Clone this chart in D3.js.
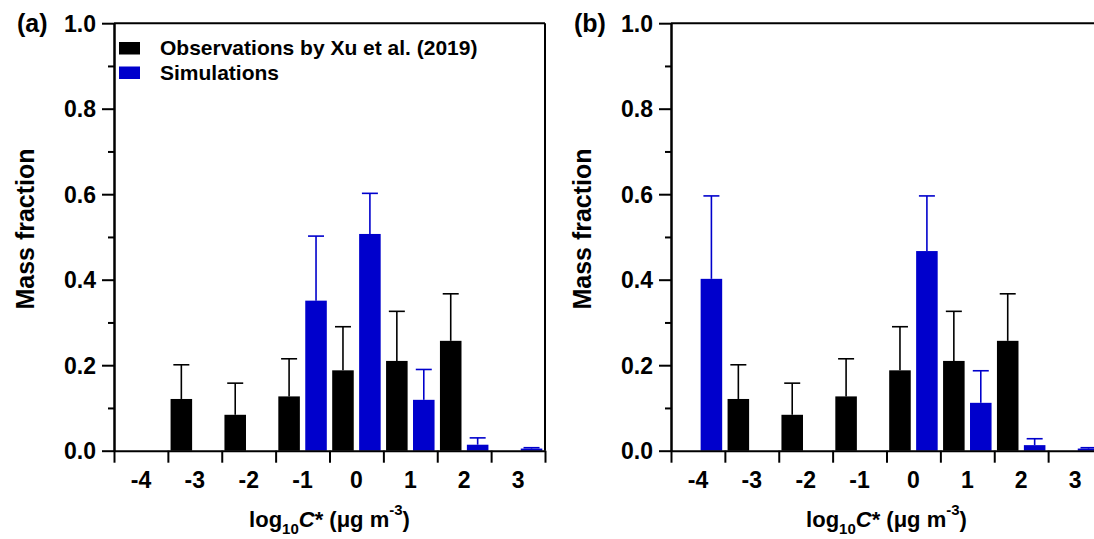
<!DOCTYPE html>
<html>
<head>
<meta charset="utf-8">
<script src="https://cdn.jsdelivr.net/npm/d3@7"></script>
<style>
  html, body { margin: 0; padding: 0; background: #fff; }
  svg { display: block; }
  text { font-family: "Liberation Sans", Arial, sans-serif; font-weight: bold; fill: #000; }
</style>
</head>
<body>
<svg id="chart" width="1094" height="539"></svg>
<script>
// ---- data ----
const categories = [-4, -3, -2, -1, 0, 1, 2, 3];
const yTickValues = [0, 0.2, 0.4, 0.6, 0.8, 1.0];
const yMinorTicks = [0.1, 0.3, 0.5, 0.7, 0.9];
const seriesNames = ["Observations by Xu et al. (2019)", "Simulations"];
const panelLabels = ["(a)", "(b)"];

// observations (same in both panels)
const obsValues = [null, 0.121, 0.084, 0.127, 0.188, 0.210, 0.257, null];
const obsErrors = [null, 0.080, 0.074, 0.088, 0.102, 0.116, 0.110, null];
// simulations panel (a)
const simAValues = [null, null, null, 0.351, 0.507, 0.119, 0.014, 0.005];
const simAErrors = [null, null, null, 0.151, 0.095, 0.071, 0.016, 0.002];
// simulations panel (b)
const simBValues = [0.402, null, null, null, 0.467, 0.112, 0.013, 0.005];
const simBErrors = [0.194, null, null, null, 0.129, 0.075, 0.015, 0.002];

const colors = { obs: "#000000", sim: "#0000CC" };

const svg = d3.select("#chart");
svg.append("rect").attr("width", 1094).attr("height", 539).attr("fill", "#fff");

const plotW = 431, plotH = 427.5, plotTop = 23.2;
const panels = [
  { left: 114, label: panelLabels[0], sim: simAValues, simErr: simAErrors, legend: true },
  { left: 671, label: panelLabels[1], sim: simBValues, simErr: simBErrors, legend: false }
];

panels.forEach(p => {
  const g = svg.append("g").attr("transform", `translate(${p.left},${plotTop})`);
  const x = d3.scaleBand().domain(categories).range([0, plotW]).padding(0);
  const xSub = d3.scaleBand().domain(["obs", "sim"]).range([0, x.bandwidth()])
    .paddingInner(0.2).paddingOuter(0.1);
  const y = d3.scaleLinear().domain([0, 1]).range([plotH, 0]);

  // bars
  const rows = categories.map((c, i) => ([
    { c, key: "obs", v: obsValues[i], e: obsErrors[i] },
    { c, key: "sim", v: p.sim[i], e: p.simErr[i] }
  ])).flat().filter(d => d.v != null);

  g.selectAll("rect.bar").data(rows).join("rect")
    .attr("class", "bar")
    .attr("x", d => x(d.c) + xSub(d.key))
    .attr("width", xSub.bandwidth())
    .attr("y", d => y(d.v))
    .attr("height", d => y(0) - y(d.v))
    .attr("fill", d => colors[d.key]);

  // error bars (upper only)
  const capW = 16;
  const eg = g.selectAll("g.err").data(rows.filter(d => d.e != null)).join("g").attr("class", "err");
  eg.append("line")
    .attr("x1", d => x(d.c) + xSub(d.key) + xSub.bandwidth() / 2)
    .attr("x2", d => x(d.c) + xSub(d.key) + xSub.bandwidth() / 2)
    .attr("y1", d => y(d.v))
    .attr("y2", d => y(d.v + d.e))
    .attr("stroke", d => colors[d.key]).attr("stroke-width", 1.6);
  eg.append("line")
    .attr("x1", d => x(d.c) + xSub(d.key) + xSub.bandwidth() / 2 - capW / 2)
    .attr("x2", d => x(d.c) + xSub(d.key) + xSub.bandwidth() / 2 + capW / 2)
    .attr("y1", d => y(d.v + d.e))
    .attr("y2", d => y(d.v + d.e))
    .attr("stroke", d => colors[d.key]).attr("stroke-width", 1.6);

  // frame top/right
  g.append("line").attr("x1", 0).attr("x2", plotW).attr("y1", 0).attr("y2", 0)
    .attr("stroke", "#000").attr("stroke-width", 2);
  g.append("line").attr("x1", plotW).attr("x2", plotW).attr("y1", 0).attr("y2", plotH)
    .attr("stroke", "#000").attr("stroke-width", 2);

  // y axis
  const yAxis = g.append("g").call(
    d3.axisLeft(y).tickValues(yTickValues).tickSize(12).tickPadding(6)
      .tickFormat(d3.format(".1f")).tickSizeOuter(0));
  const yMinor = g.append("g").call(
    d3.axisLeft(y).tickValues(yMinorTicks).tickSize(6).tickFormat("").tickSizeOuter(0));
  [yAxis, yMinor].forEach(a => {
    a.select(".domain").attr("stroke-width", 2);
    a.selectAll(".tick line").attr("stroke-width", 2);
  });
  yAxis.selectAll(".tick text").style("font-size", "23px").attr("dy", "0.36em")
    .style("font-family", '"Liberation Sans", Arial, sans-serif').style("font-weight", "bold");

  // x axis: boundary ticks
  const xb = d3.scaleLinear().domain([0, categories.length]).range([0, plotW]);
  const xTicks = g.append("g").attr("transform", `translate(0,${plotH})`).call(
    d3.axisBottom(xb).ticks(categories.length).tickSize(12).tickFormat("").tickSizeOuter(0));
  xTicks.select(".domain").attr("stroke-width", 2);
  xTicks.selectAll(".tick line").attr("stroke-width", 2);
  // x axis labels
  const xLab = g.append("g").attr("transform", `translate(0,${plotH})`).call(
    d3.axisBottom(x).tickSize(0).tickPadding(21));
  xLab.select(".domain").remove();
  xLab.selectAll(".tick text").style("font-size", "23px")
    .style("font-family", '"Liberation Sans", Arial, sans-serif').style("font-weight", "bold");

  // panel label
  svg.append("text").attr("x", p.left - 97).attr("y", 32).style("font-size", "25px").text(p.label);

  // y label
  svg.append("text")
    .attr("transform", `translate(${p.left - 80},229) rotate(-90)`)
    .attr("text-anchor", "middle").style("font-size", "25px").text("Mass fraction");

  // x label
  const xl = svg.append("text").attr("x", p.left + plotW / 2).attr("y", 527)
    .attr("text-anchor", "middle").style("font-size", "22px");
  xl.append("tspan").text("log");
  xl.append("tspan").attr("dy", 7).style("font-size", "15px").text("10");
  xl.append("tspan").attr("dy", -7).style("font-style", "italic").text("C");
  xl.append("tspan").text("* (μg m");
  xl.append("tspan").attr("dy", -12).style("font-size", "15px").text("-3");
  xl.append("tspan").attr("dy", 12).text(")");

  // legend
  if (p.legend) {
    const lg = svg.append("g").attr("transform", `translate(${p.left + 5},42)`);
    seriesNames.forEach((name, i) => {
      lg.append("rect").attr("x", 0).attr("y", i * 24.5).attr("width", 21).attr("height", 12.5)
        .attr("fill", i === 0 ? colors.obs : colors.sim);
      lg.append("text").attr("x", 41).attr("y", i * 24.5 + 13).style("font-size", "21px").text(name);
    });
  }
});
</script>
</body>
</html>
